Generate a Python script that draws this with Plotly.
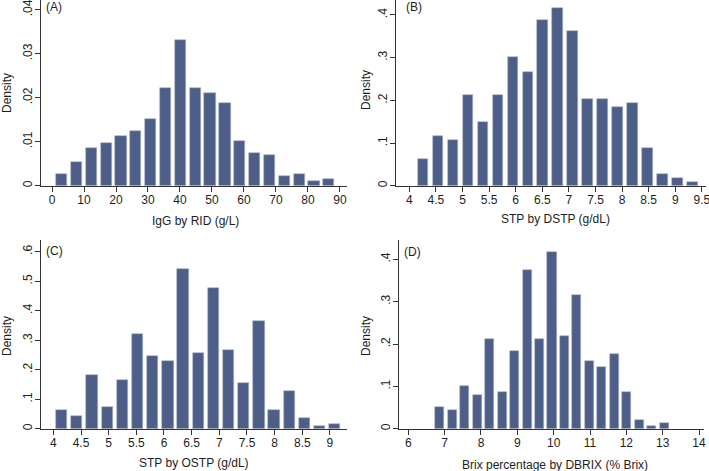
import plotly.graph_objects as go

W, H = 709, 471

# ---- data ----
a_centers = [3.02, 7.66, 12.30, 16.93, 21.57, 26.21, 30.85, 35.49, 40.12, 44.76,
             49.40, 54.04, 58.68, 63.31, 67.95, 72.59, 77.23, 81.87, 86.50]
a_density = [0.0027, 0.0053, 0.0086, 0.0097, 0.01135, 0.0124, 0.0152, 0.0222, 0.0330, 0.0222,
             0.0210, 0.0189, 0.0102, 0.0075, 0.0070, 0.0021, 0.0027, 0.00105, 0.0016]

b_centers = [4.257, 4.539, 4.820, 5.102, 5.383, 5.665, 5.946, 6.228, 6.509, 6.791,
             7.072, 7.354, 7.635, 7.917, 8.198, 8.480, 8.761, 9.043, 9.324]
b_density = [0.0617, 0.1156, 0.106, 0.2125, 0.150, 0.2125, 0.3008, 0.2656, 0.389, 0.416,
             0.3625, 0.203, 0.203, 0.185, 0.194, 0.088, 0.0266, 0.0172, 0.0086]

c_centers = [4.150, 4.424, 4.699, 4.973, 5.247, 5.522, 5.796, 6.070, 6.344, 6.619,
             6.893, 7.167, 7.442, 7.716, 7.990, 8.265, 8.539, 8.813, 9.087]
c_density = [0.0633, 0.044, 0.183, 0.0723, 0.1638, 0.321, 0.2475, 0.228, 0.542, 0.2554,
             0.4768, 0.2655, 0.1548, 0.366, 0.0633, 0.1277, 0.035, 0.0079, 0.017]

d_centers = [6.867, 7.210, 7.553, 7.896, 8.239, 8.582, 8.925, 9.268, 9.611, 9.954,
             10.297, 10.640, 10.983, 11.326, 11.669, 12.012, 12.355, 12.698, 13.041]
d_density = [0.0512, 0.0433, 0.1016, 0.0795, 0.2118, 0.0874, 0.1827, 0.374, 0.2118, 0.418,
             0.2197, 0.315, 0.1606, 0.1457, 0.1756, 0.0874, 0.0213, 0.0063, 0.0134]

a_xticks = [0, 10, 20, 30, 40, 50, 60, 70, 80, 90]
b_xticks = [4, 4.5, 5, 5.5, 6, 6.5, 7, 7.5, 8, 8.5, 9, 9.5]
c_xticks = [4, 4.5, 5, 5.5, 6, 6.5, 7, 7.5, 8, 8.5, 9]
d_xticks = [6, 7, 8, 9, 10, 11, 12, 13, 14]

a_yticks = [0, 0.01, 0.02, 0.03, 0.04]
a_ylabels = ["0", ".01", ".02", ".03", ".04"]
b_yticks = [0, 0.1, 0.2, 0.3, 0.4]
b_ylabels = ["0", ".1", ".2", ".3", ".4"]
c_yticks = [0, 0.1, 0.2, 0.3, 0.4, 0.5, 0.6]
c_ylabels = ["0", ".1", ".2", ".3", ".4", ".5", ".6"]
d_yticks = [0, 0.1, 0.2, 0.3, 0.4]
d_ylabels = ["0", ".1", ".2", ".3", ".4"]

x_titles = ["IgG by RID (g/L)", "STP by DSTP (g/dL)", "STP by OSTP (g/dL)",
            "Brix percentage by DBRIX (% Brix)"]
panel_tags = ["(A)", "(B)", "(C)", "(D)"]
y_title = "Density"

# ---- style ----
BAR = "#4d5e88"
AX = "#333333"
TXT = "#1e1e1e"
FONT = "Liberation Sans, Arial, sans-serif"
FS = 12

def px_x(p):
    return p / W

def px_y(p):
    return 1 - p / H

panels = [
    dict(c=a_centers, d=a_density, w=3.5, xt=a_xticks, yt=a_yticks, yl=a_ylabels,
         xpx=(41, 347), ypx=(185.7, 0), xr=[-3.44, 92.2], yr=[0, 0.0422],
         xtitle=(195, 221), ytitle=(7, 93), tag=(44, 7)),
    dict(c=b_centers, d=b_density, w=0.2, xt=b_xticks, yt=b_yticks, yl=b_ylabels,
         xpx=(396, 706), ypx=(185.7, 0), xr=[3.75, 9.577], yr=[0, 0.435],
         xtitle=(555, 219), ytitle=(366, 90), tag=(404, 7)),
    dict(c=c_centers, d=c_density, w=0.205, xt=c_xticks, yt=c_yticks, yl=c_ylabels,
         xpx=(41, 347), ypx=(428.7, 240), xr=[3.777, 9.308], yr=[0, 0.6397],
         xtitle=(194, 463), ytitle=(7, 336), tag=(44, 251)),
    dict(c=d_centers, d=d_density, w=0.248, xt=d_xticks, yt=d_yticks, yl=d_ylabels,
         xpx=(399, 704), ypx=(428.7, 240), xr=[5.744, 14.137], yr=[0, 0.4456],
         xtitle=(555, 465), ytitle=(366, 336), tag=(402, 252)),
]

fig = go.Figure()
layout = dict(width=W, height=H, margin=dict(l=0, r=0, t=0, b=0),
              paper_bgcolor="white", plot_bgcolor="white", showlegend=False,
              font=dict(family=FONT, size=FS, color=TXT), bargap=0)
annotations = []

for i, p in enumerate(panels):
    n = "" if i == 0 else str(i + 1)
    fig.add_trace(go.Bar(x=p["c"], y=p["d"], width=p["w"],
                         marker=dict(color=BAR, line=dict(color="#aab3c8", width=0.6)),
                         xaxis="x" + n, yaxis="y" + n, hoverinfo="x+y"))
    layout["xaxis" + n] = dict(
        domain=[px_x(p["xpx"][0]), px_x(p["xpx"][1])], range=p["xr"], anchor="y" + n,
        tickmode="array", tickvals=p["xt"], ticktext=[f"{v:g}" for v in p["xt"]],
        showgrid=False, zeroline=False, showline=True, linecolor=AX, linewidth=1,
        ticks="outside", ticklen=5, tickcolor=AX, tickwidth=1, ticklabelstandoff=-2,
        ticklabeloverflow="allow",
        tickfont=dict(family=FONT, size=FS, color=TXT), automargin=False, fixedrange=True)
    layout["yaxis" + n] = dict(
        domain=[px_y(p["ypx"][0]), px_y(p["ypx"][1])], range=p["yr"], anchor="x" + n,
        tickmode="array", tickvals=p["yt"], ticktext=p["yl"], tickangle=-90,
        showgrid=False, zeroline=False, showline=True, linecolor=AX, linewidth=1,
        ticks="outside", ticklen=5, tickcolor=AX, tickwidth=1, ticklabelstandoff=-2,
        ticklabeloverflow="allow",
        tickfont=dict(family=FONT, size=FS, color=TXT), automargin=False, fixedrange=True)
    annotations.append(dict(text=x_titles[i], xref="paper", yref="paper",
                            x=px_x(p["xtitle"][0]), y=px_y(p["xtitle"][1]),
                            xanchor="center", yanchor="middle", showarrow=False,
                            font=dict(family=FONT, size=FS, color=TXT)))
    annotations.append(dict(text=y_title, xref="paper", yref="paper", textangle=-90,
                            x=px_x(p["ytitle"][0]), y=px_y(p["ytitle"][1]),
                            xanchor="center", yanchor="middle", showarrow=False,
                            font=dict(family=FONT, size=FS, color=TXT)))
    annotations.append(dict(text=panel_tags[i], xref="paper", yref="paper",
                            x=px_x(p["tag"][0]), y=px_y(p["tag"][1]),
                            xanchor="left", yanchor="middle", showarrow=False,
                            font=dict(family=FONT, size=FS, color=TXT)))

layout["annotations"] = annotations
fig.update_layout(**layout)
fig.write_html("out.html", config={"displayModeBar": False},
               post_script="document.body.style.margin='0';document.body.style.overflow='hidden';")
